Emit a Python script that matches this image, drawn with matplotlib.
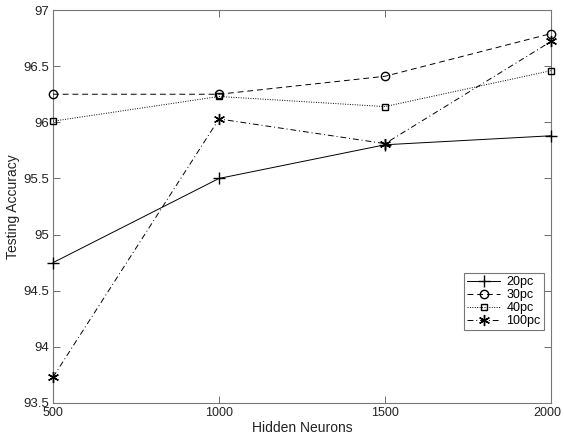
import matplotlib
matplotlib.use('Agg')
import matplotlib.pyplot as plt
import matplotlib.transforms as mtransforms

plt.rcParams['font.family'] = ['Liberation Sans', 'DejaVu Sans']

neurons = [500, 1000, 1500, 2000]
acc_20pc = [94.75, 95.50, 95.80, 95.88]
acc_30pc = [96.25, 96.25, 96.41, 96.79]
acc_40pc = [96.01, 96.23, 96.14, 96.46]
acc_100pc = [93.73, 96.03, 95.81, 96.72]
labels = ['20pc', '30pc', '40pc', '100pc']

fig = plt.figure(figsize=(5.64, 4.36), dpi=100)
ax = fig.add_axes([0.094, 0.0757, 0.883, 0.9013])

ax.plot(neurons, acc_20pc, color='black', lw=0.7, ls='-', marker='+', ms=8,
        mew=1.0, label=labels[0], clip_on=False, zorder=3)
ax.plot(neurons, acc_30pc, color='black', lw=0.7, ls=(0, (6, 4)), marker='o',
        ms=6, mfc='none', mew=1.0, label=labels[1], clip_on=False, zorder=3)
ax.plot(neurons, acc_40pc, color='black', lw=0.7, ls=(0, (1, 1.5)), marker='s',
        ms=5, mfc='none', mew=1.0, label=labels[2], clip_on=False, zorder=3)
ax.plot(neurons, acc_100pc, color='black', lw=0.7, ls=(0, (6, 3, 1, 3)),
        marker=(6, 2, 0), ms=8, mew=1.0, label=labels[3], clip_on=False, zorder=3)

ax.set_xlim(500, 2000)
ax.set_ylim(93.5, 97)
ax.set_xticks([500, 1000, 1500, 2000])
ax.set_yticks([93.5, 94, 94.5, 95, 95.5, 96, 96.5, 97])
ax.set_yticklabels(['93.5', '94', '94.5', '95', '95.5', '96', '96.5', '97'])
ax.tick_params(direction='in', top=True, right=True, length=5, width=0.6,
               color='#555555', labelsize=9.5, labelcolor='#222222', pad=3)
ax.tick_params(axis='x', labelsize=9)
for s in ax.spines.values():
    s.set_color('#777777')
    s.set_linewidth(0.8)

# keep the last x label inside the figure
last = ax.get_xticklabels()[-1]
last.set_transform(last.get_transform() +
                   mtransforms.ScaledTranslation(-3 / 72, 0, fig.dpi_scale_trans))

ax.set_xlabel('Hidden Neurons', fontsize=10, color='#222222', labelpad=1)
ax.set_ylabel('Testing Accuracy', fontsize=10, color='#222222', labelpad=2)

leg = ax.legend(loc='upper left', bbox_to_anchor=(0.826, 0.331), fontsize=9,
                frameon=True, fancybox=False, handlelength=2.6,
                borderpad=0.25, labelspacing=0.08, handletextpad=0.5,
                borderaxespad=0)
leg.get_frame().set_edgecolor('#555555')
leg.get_frame().set_linewidth(0.8)
leg.set_zorder(5)

fig.savefig('out.png', dpi=100)
